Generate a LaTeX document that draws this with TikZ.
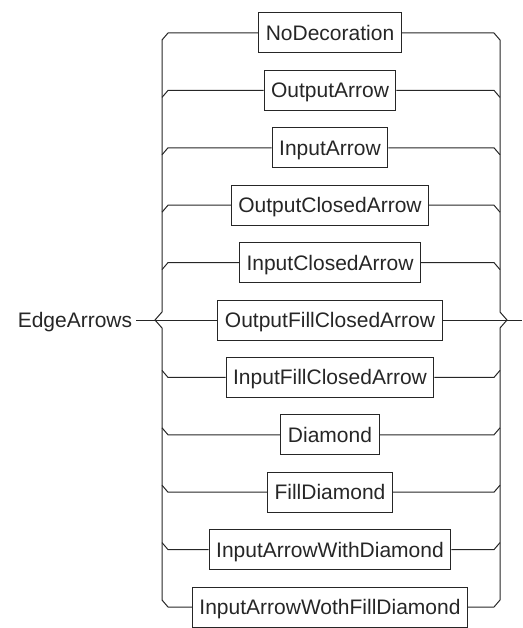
\documentclass[tikz,border=0pt]{standalone}
\usepackage{fontspec}
\setmainfont{Liberation Sans}
\usetikzlibrary{positioning}

\begin{document}
\begin{tikzpicture}[
  x=1pt, y=-1pt,
  line width=1pt, color=black!85,
  label/.style={font=\fontsize{21pt}{25pt}\selectfont, text height=15pt, text depth=0pt},
  block/.style={label, draw, minimum height=40pt, inner xsep=7pt},
  rail/.style={line join=miter},
]
  \useasboundingbox (0,0) rectangle (522,628);
  \coordinate (lrail) at (162,0);
  \coordinate (rrail) at (500,0);
  \coordinate (exit) at (522,0);

  \node[block] at (330,33) (nodeco) {NoDecoration};
  \node[block, below=16.4pt of nodeco] (outarr) {OutputArrow};
  \node[block, below=16.4pt of outarr] (inarr) {InputArrow};
  \node[block, below=16.4pt of inarr] (outcl) {OutputClosedArrow};
  \node[block, below=16.4pt of outcl] (incl) {InputClosedArrow};
  \node[block, below=16.4pt of incl] (outfcl) {OutputFillClosedArrow};
  \node[block, below=16.4pt of outfcl] (infcl) {InputFillClosedArrow};
  \node[block, below=16.4pt of infcl] (diam) {Diamond};
  \node[block, below=16.4pt of diam] (fdiam) {FillDiamond};
  \node[block, below=16.4pt of fdiam] (inwd) {InputArrowWithDiamond};
  \node[block, below=16.4pt of inwd] (inwfd) {InputArrowWothFillDiamond};

  \node[label, anchor=east] at (outfcl.west -| 136,0) (edge) {EdgeArrows};

  % branches above the main line
  \foreach \n in {nodeco,outarr,inarr,outcl,incl} {
    \draw[rail] (\n.west) -- ([xshift=6pt]\n.west -| lrail) -- ([yshift=-7pt]\n.west -| lrail);
    \draw[rail] (\n.east) -- ([xshift=-6pt]\n.east -| rrail) -- ([yshift=-7pt]\n.east -| rrail);
  }
  % branches below the main line
  \foreach \n in {infcl,diam,fdiam,inwd,inwfd} {
    \draw[rail] (\n.west) -- ([xshift=6pt]\n.west -| lrail) -- ([yshift=7pt]\n.west -| lrail);
    \draw[rail] (\n.east) -- ([xshift=-6pt]\n.east -| rrail) -- ([yshift=7pt]\n.east -| rrail);
  }

  % main line
  \draw (edge) -- (outfcl);
  \draw (outfcl) -- (outfcl.east -| exit);

  % rails
  \draw[rail] ([yshift=-7pt]nodeco.west -| lrail) -- ([yshift=8pt]outfcl.west -| lrail)
    -- ([xshift=-7pt]outfcl.west -| lrail) -- ([yshift=-8pt]outfcl.west -| lrail)
    -- ([yshift=7pt]inwfd.west -| lrail);
  \draw[rail] ([yshift=-7pt]nodeco.east -| rrail) -- ([yshift=8pt]outfcl.east -| rrail)
    -- ([xshift=7pt]outfcl.east -| rrail) -- ([yshift=-8pt]outfcl.east -| rrail)
    -- ([yshift=7pt]inwfd.east -| rrail);
\end{tikzpicture}
\end{document}
